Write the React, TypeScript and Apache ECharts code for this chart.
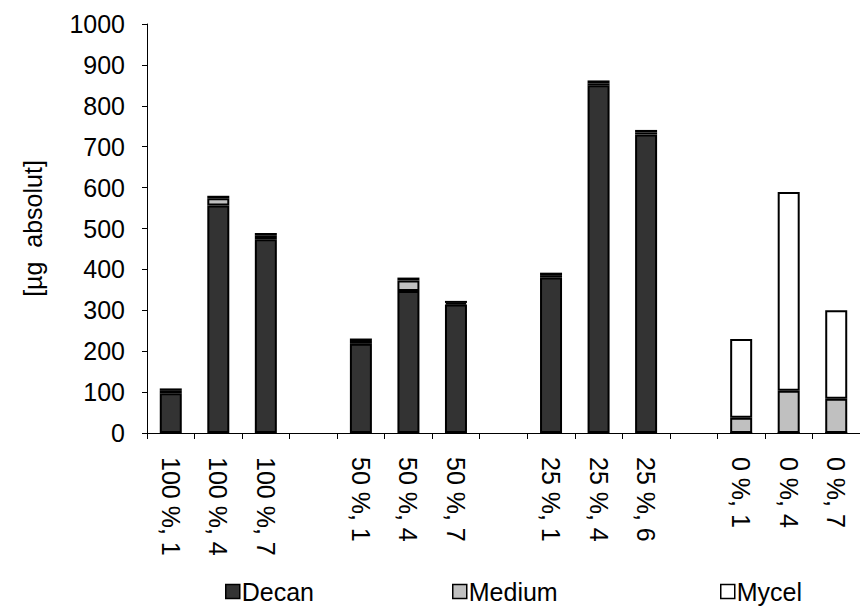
import React, { useEffect, useRef } from "react";
import * as echarts from "echarts";

const categories = [
  "100 %, 1", "100 %, 4", "100 %, 7", "",
  "50 %, 1", "50 %, 4", "50 %, 7", " ",
  "25 %, 1", "25 %, 4", "25 %, 6", "  ",
  "0 %, 1", "0 %, 4", "0 %, 7",
];
const decan = [97, 556, 474, null, 218, 347, 314, null, 380, 850, 730, null, 0, 0, 0];
const medium = [6, 18, 8, null, 7, 26, 4, null, 6, 5, 5, null, 37, 103, 84];
const mycel = [6, 6, 7, null, 6, 7, 5, null, 6, 7, 6, null, 193, 486, 216];
const yTicks = { min: 0, max: 1000, interval: 100 };

const FONT = "'Liberation Sans', Arial, sans-serif";
const FS = 25;

export default function App() {
  const ref = useRef<HTMLDivElement>(null);
  useEffect(() => {
    if (!ref.current) return;
    const chart = echarts.init(ref.current, undefined, { renderer: "svg" });
    const barStyle = (color: string) => ({
      color,
      borderColor: "#000",
      borderWidth: 2,
    });
    const mkLegend = (name: string, left: number) => ({
      data: [name],
      left,
      top: 579,
      itemWidth: 14,
      itemHeight: 14,
      itemGap: 4,
      icon: "rect",
      itemStyle: { borderWidth: 1.5 },
      textStyle: { fontSize: FS, color: "#000", fontFamily: FONT, padding: [0, 0, 0, -3] },
      padding: 0,
    });
    chart.setOption({
      animation: false,
      backgroundColor: "#fff",
      textStyle: { fontFamily: FONT },
      legend: [mkLegend("Decan", 225), mkLegend("Medium", 452), mkLegend("Mycel", 720)],
      grid: { left: 147, right: -12, top: 24, bottom: 181, containLabel: false },
      xAxis: {
        type: "category",
        data: categories,
        boundaryGap: true,
        axisLine: { lineStyle: { color: "#000", width: 1 } },
        axisTick: { show: true, length: 6, lineStyle: { color: "#000" }, interval: 0 },
        axisLabel: {
          rotate: -90,
          interval: 0,
          margin: 24,
          fontSize: FS,
          color: "#000",
          fontFamily: FONT,
        },
        splitLine: { show: false },
      },
      yAxis: {
        type: "value",
        min: yTicks.min,
        max: yTicks.max,
        interval: yTicks.interval,
        name: "[µg  absolut]",
        nameLocation: "middle",
        nameGap: 102,
        nameRotate: 90,
        nameTextStyle: { fontSize: FS, color: "#000", fontFamily: FONT },
        axisLine: { show: true, lineStyle: { color: "#000", width: 1 } },
        axisTick: { show: true, length: 5, lineStyle: { color: "#000" } },
        axisLabel: {
          fontSize: FS,
          color: "#000",
          margin: 22,
          fontFamily: FONT,
          formatter: (v: number) => String(v),
        },
        splitLine: { show: false },
      },
      series: [
        { name: "Decan", type: "bar", stack: "s", data: decan, barWidth: 22, itemStyle: barStyle("#333333") },
        { name: "Medium", type: "bar", stack: "s", data: medium, barWidth: 22, itemStyle: barStyle("#C0C0C0") },
        { name: "Mycel", type: "bar", stack: "s", data: mycel, barWidth: 22, itemStyle: barStyle("#FFFFFF") },
      ],
    });
    return () => chart.dispose();
  }, []);
  return (
    <div
      ref={ref}
      style={{ position: "fixed", left: 0, top: 0, width: 860, height: 614, background: "#fff" }}
    />
  );
}
